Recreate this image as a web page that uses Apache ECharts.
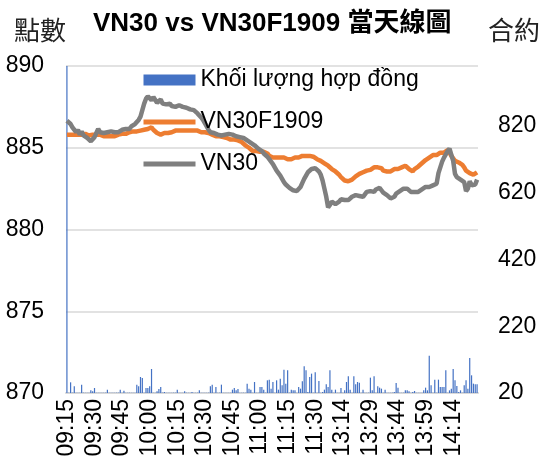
<!DOCTYPE html>
<html>
<head>
<meta charset="utf-8">
<script src="https://cdn.jsdelivr.net/npm/echarts@6/dist/echarts.min.js"></script>
<style>
  html, body { margin: 0; padding: 0; background: #fff; }
  #chart { width: 547px; height: 462px; }
</style>
</head>
<body>
<div id="chart"></div>
<script>
// trading sessions (start, end) -> one category per minute
const sessions = [['09:15', '11:30'], ['13:00', '14:27']];

// VN30 index, per minute
const vn30 = [
    886.65, 886.7, 886.45, 886.25, 886.35, 885.95, 886.1, 885.8, 886.0, 885.75,
    885.85, 885.6, 885.5, 885.4, 885.5, 885.65, 885.9, 886.15, 885.95, 885.85,
    885.9, 885.8, 885.95, 885.85, 886.0, 885.9, 885.95, 886.05, 885.95, 886.0,
    886.1, 886.0, 886.15, 886.2, 886.15, 886.3, 886.35, 886.45, 886.5, 886.7,
    886.9, 887.3, 887.7, 888.0, 888.15, 888.05, 887.9, 888.1, 888.0, 887.75,
    887.85, 887.95, 887.7, 887.8, 887.65, 887.6, 887.7, 887.55, 887.6, 887.5,
    887.55, 887.6, 887.6, 887.5, 887.55, 887.45, 887.4, 887.35, 887.3, 887.3,
    887.2, 887.1, 887.0, 886.85, 886.7, 886.5, 886.3, 886.1, 885.95, 885.9,
    885.9, 885.85, 885.8, 885.85, 885.75, 885.8, 885.8, 885.75, 885.85, 885.8,
    885.8, 885.75, 885.7, 885.7, 885.65, 885.6, 885.6, 885.5, 885.45, 885.35,
    885.3, 885.2, 885.15, 885.05, 884.95, 884.9, 884.8, 884.65, 884.55, 884.45,
    884.3, 884.15, 884.0, 883.8, 883.6, 883.45, 883.3, 883.1, 882.9, 882.75,
    882.65, 882.55, 882.5, 882.4, 882.3, 882.35, 882.45, 882.6, 882.85, 883.1,
    883.3, 883.5, 883.6, 883.7, 883.75, 883.75, 883.65, 883.55, 883.35, 883.0,
    882.5, 882.0, 881.35, 881.5, 881.7, 881.65, 881.55, 881.5, 881.7, 881.85,
    881.95, 881.8, 881.85, 881.8, 881.85, 882.0, 882.05, 882.1, 882.15, 882.05,
    881.95, 882.0, 882.15, 882.3, 882.25, 882.35, 882.4, 882.3, 882.45, 882.5,
    882.55, 882.4, 882.25, 882.15, 882.1, 882.0, 881.9, 881.85, 882.0, 882.2,
    882.3, 882.35, 882.45, 882.5, 882.55, 882.5, 882.4, 882.3, 882.35, 882.3,
    882.25, 882.3, 882.35, 882.45, 882.55, 882.6, 882.55, 882.6, 882.65, 882.7,
    882.75, 882.8, 883.45, 883.8, 884.15, 884.4, 884.6, 884.8, 884.95, 885.05,
    884.2, 883.4, 883.2, 883.1, 883.05, 882.95, 882.9, 882.35, 882.5, 882.95,
    882.7, 882.6, 882.75, 883.05
];

// VN30F1909 futures, per minute
const vn30f = [
    885.8, 885.85, 885.8, 885.75, 885.8, 885.85, 885.8, 885.75, 885.8, 885.8,
    885.85, 885.8, 885.75, 885.8, 885.8, 885.75, 885.8, 885.85, 885.8, 885.75,
    885.7, 885.75, 885.7, 885.65, 885.7, 885.75, 885.7, 885.75, 885.8, 885.8,
    885.85, 885.9, 885.85, 885.9, 885.95, 885.9, 886.0, 885.95, 886.0, 886.0,
    886.05, 886.0, 886.1, 886.05, 886.15, 886.2, 886.25, 886.1, 886.0, 885.9,
    885.85, 885.8, 885.85, 885.9, 885.95, 885.9, 886.0, 885.95, 886.0, 886.05,
    886.0, 886.05, 886.0, 886.05, 886.0, 886.05, 886.1, 886.05, 886.0, 886.05,
    886.0, 886.05, 886.0, 885.95, 886.0, 885.95, 885.9, 885.9, 885.85, 885.8,
    885.75, 885.7, 885.65, 885.7, 885.6, 885.65, 885.55, 885.6, 885.5, 885.5,
    885.45, 885.5, 885.4, 885.45, 885.35, 885.35, 885.3, 885.15, 885.05, 885.0,
    884.9, 884.8, 884.75, 884.8, 884.75, 884.75, 884.8, 884.75, 884.7, 884.65,
    884.5, 884.45, 884.4, 884.45, 884.4, 884.45, 884.4, 884.35, 884.4, 884.35,
    884.3, 884.35, 884.3, 884.35, 884.4, 884.45, 884.4, 884.45, 884.5, 884.45,
    884.5, 884.55, 884.5, 884.5, 884.45, 884.4, 884.3, 884.25, 884.2, 884.15,
    884.05, 883.95, 883.9, 883.8, 883.7, 883.65, 883.55, 883.45, 883.35, 883.2,
    883.1, 883.0, 882.9, 882.95, 883.0, 883.05, 883.15, 883.25, 883.3, 883.4,
    883.45, 883.5, 883.55, 883.6, 883.7, 883.65, 883.75, 883.8, 883.75, 883.8,
    883.85, 883.75, 883.6, 883.5, 883.55, 883.6, 883.55, 883.65, 883.7, 883.65,
    883.7, 883.75, 883.8, 883.85, 883.9, 883.8, 883.7, 883.6, 883.55, 883.7,
    883.8, 883.85, 883.95, 884.05, 884.15, 884.25, 884.3, 884.4, 884.5, 884.55,
    884.6, 884.55, 884.65, 884.7, 884.75, 884.7, 884.8, 884.85, 884.7, 884.5,
    884.35, 884.2, 884.15, 884.1, 884.0, 883.95, 883.8, 883.6, 883.5, 883.45,
    883.4, 883.35, 883.45, 883.5
];

// contract volume per minute (right axis)
const volume = [
    1500, 21, 52, 21, 40, 21, 21, 21, 45, 21,
    21, 21, 21, 28, 25, 35, 21, 21, 21, 21,
    21, 21, 30, 21, 21, 21, 21, 21, 21, 30,
    21, 27, 21, 21, 21, 21, 21, 21, 45, 40,
    68, 65, 21, 35, 35, 40, 92, 21, 21, 25,
    32, 38, 21, 23, 21, 21, 21, 21, 21, 21,
    30, 21, 21, 21, 25, 21, 21, 21, 23, 21,
    21, 21, 28, 21, 21, 21, 21, 21, 40, 45,
    21, 38, 21, 21, 45, 21, 21, 21, 21, 21,
    30, 35, 28, 32, 21, 21, 21, 21, 48, 33,
    30, 21, 53, 21, 21, 38, 38, 30, 21, 58,
    60, 33, 53, 21, 58, 30, 63, 43, 90, 48,
    88, 21, 30, 28, 28, 21, 38, 33, 55, 100,
    88, 23, 68, 78, 21, 82, 21, 56, 21, 23,
    30, 46, 38, 88, 30, 21, 30, 21, 21, 35,
    21, 28, 53, 70, 30, 21, 70, 46, 53, 51,
    21, 30, 21, 21, 21, 66, 28, 70, 21, 40,
    36, 33, 21, 30, 21, 21, 21, 21, 23, 50,
    36, 21, 21, 21, 28, 28, 25, 21, 23, 26,
    21, 21, 21, 21, 28, 36, 28, 132, 43, 21,
    60, 21, 60, 38, 38, 38, 88, 21, 28, 33,
    92, 58, 41, 23, 28, 21, 43, 58, 33, 125,
    73, 48, 46, 46
];

function buildTimes(ranges) {
    let out = [];
    ranges.forEach(function (r) {
        let a = r[0].split(':'), b = r[1].split(':');
        let t0 = (+a[0]) * 60 + (+a[1]), t1 = (+b[0]) * 60 + (+b[1]);
        for (let t = t0; t <= t1; t++) {
            let h = Math.floor(t / 60), m = t % 60;
            out.push((h < 10 ? '0' : '') + h + ':' + (m < 10 ? '0' : '') + m);
        }
    });
    return out;
}
const times = buildTimes(sessions);

const FONT = '"Liberation Sans", Arial, "Noto Sans CJK TC", sans-serif';
const CJK = '"Noto Sans CJK TC", "Noto Sans CJK SC", sans-serif';

let chart = echarts.init(document.getElementById('chart'));

// legend line swatch: thick line, no marker
const lineKey = function (name, color) {
    return {
        name: name,
        itemStyle: { opacity: 0 },
        lineStyle: { width: 5, color: color }
    };
};

const option = {
    animation: false,
    textStyle: { fontFamily: FONT },
    title: [
        {
            text: 'VN30 vs VN30F1909 當天線圖',
            left: 88, top: 6,
            textStyle: { fontFamily: FONT, fontSize: 26, fontWeight: 'bold', color: '#000' }
        },
        {
            text: '點數',
            left: 9, top: 12,
            textStyle: { fontFamily: CJK, fontSize: 26, fontWeight: 'normal', color: '#222' }
        },
        {
            text: '合約',
            right: 2, top: 12,
            textStyle: { fontFamily: CJK, fontSize: 26, fontWeight: 'normal', color: '#222' }
        }
    ],
    legend: {
        orient: 'vertical',
        left: 136, top: 63,
        itemWidth: 52, itemHeight: 11,
        itemGap: 18,
        textStyle: { fontFamily: FONT, fontSize: 23, color: '#000', lineHeight: 24 },
        data: [
            { name: 'Khối lượng hợp đồng', icon: 'rect' },
            lineKey('VN30F1909', '#ED7D31'),
            lineKey('VN30', '#7F7F7F')
        ]
    },
    grid: { left: 66, right: 69, top: 66, bottom: 69 },
    xAxis: {
        type: 'category',
        data: times,
        boundaryGap: true,
        axisTick: { show: false },
        axisLine: { lineStyle: { color: '#D9D9D9', width: 2 } },
        axisLabel: {
            rotate: 90, interval: 14, margin: 6,
            fontSize: 23, color: '#000', fontFamily: FONT
        }
    },
    yAxis: [
        {
            type: 'value',
            min: 870, max: 890, interval: 5,
            axisLine: { show: false },
            axisTick: { show: false },
            axisLabel: { fontSize: 23, color: '#000', margin: 22, fontFamily: FONT },
            splitLine: { lineStyle: { color: '#D9D9D9', width: 1.5 } }
        },
        {
            type: 'value',
            min: 20, max: 1000, interval: 200,
            axisLine: { show: false },
            axisTick: { show: false },
            axisLabel: { fontSize: 23, color: '#000', margin: 20, showMaxLabel: false, fontFamily: FONT },
            splitLine: { show: false }
        }
    ],
    series: [
        {
            name: 'Khối lượng hợp đồng',
            type: 'bar',
            yAxisIndex: 1,
            data: volume,
            barWidth: 1.2,
            itemStyle: { color: '#4472C4' }
        },
        {
            name: 'VN30F1909',
            type: 'line',
            data: vn30f,
            symbol: 'none',
            color: '#ED7D31',
            lineStyle: { width: 4.5, color: '#ED7D31' }
        },
        {
            name: 'VN30',
            type: 'line',
            data: vn30,
            symbol: 'none',
            color: '#7F7F7F',
            lineStyle: { width: 4.5, color: '#7F7F7F' }
        }
    ]
};

chart.setOption(option);
</script>
</body>
</html>
